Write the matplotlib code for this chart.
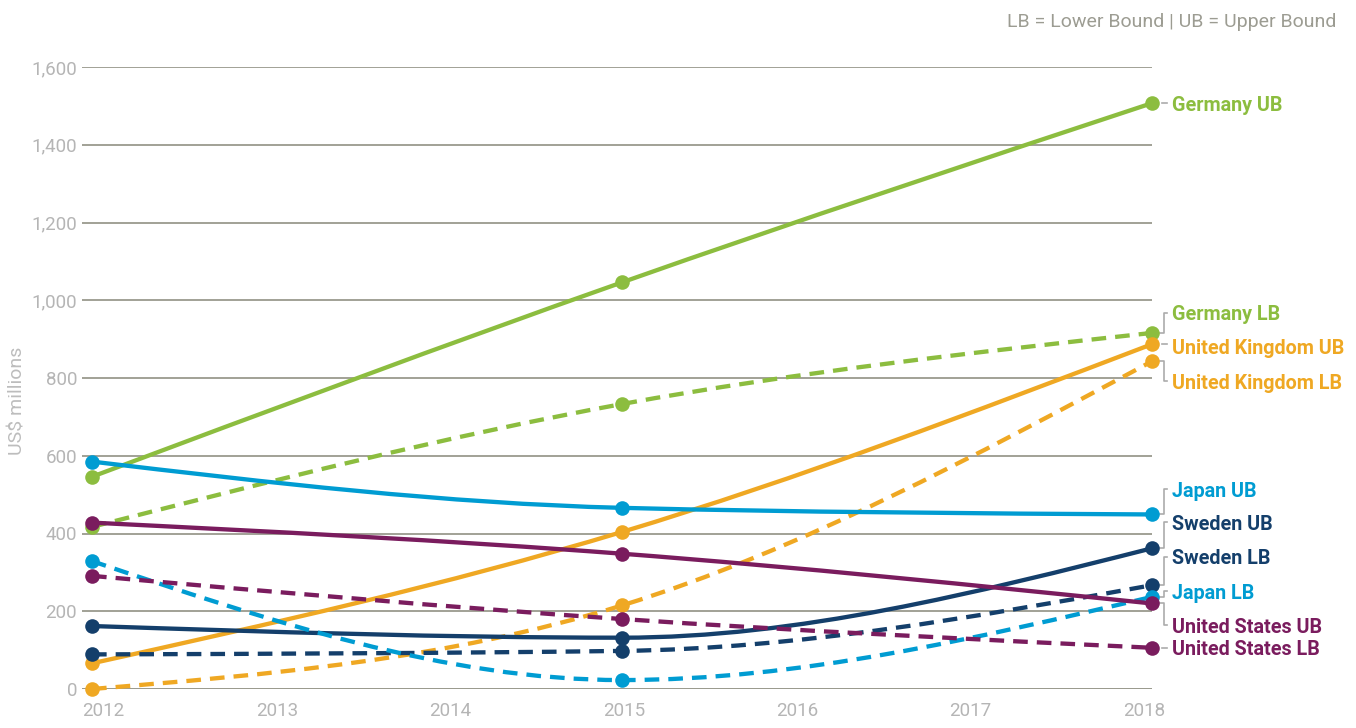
import numpy as np
import matplotlib
matplotlib.use("Agg")
import matplotlib.pyplot as plt
from matplotlib.path import Path
from matplotlib.patches import PathPatch
from matplotlib import font_manager

# ---------------- data ----------------
years = [2012, 2015, 2018]
tick_years = [2012, 2013, 2014, 2015, 2016, 2017, 2018]

germany_ub = [546, 1046, 1507]
germany_lb = [417, 733, 916]
uk_ub = [66, 404, 887]
uk_lb = [0, 215, 843]
japan_ub = [585, 466, 449]
japan_lb = [329, 23, 237]
sweden_ub = [162, 132, 362]
sweden_lb = [89, 98, 267]
us_ub = [428, 348, 220]
us_lb = [291, 180, 106]

series_names = ["Germany UB", "Germany LB", "United Kingdom UB", "United Kingdom LB",
                "Japan UB", "Sweden UB", "Sweden LB", "Japan LB",
                "United States UB", "United States LB"]
y_ticks = [0, 200, 400, 600, 800, 1000, 1200, 1400, 1600]
y_tick_labels = ["0", "200", "400", "600", "800", "1,000", "1,200", "1,400", "1,600"]

# ---------------- style ----------------
GREEN = "#8CBD3F"
ORANGE = "#EFA823"
BLUE = "#009CD2"
NAVY = "#143F6B"
PURPLE = "#7A1C5E"
GRID = "#9a9a8e"
TICK = "#b5b5b5"
NOTE = "#9c9c92"
CONN = "#ababab"

names = {f.name for f in font_manager.fontManager.ttflist}
if "Liberation Sans Narrow" in names:
    FONT = ["Liberation Sans Narrow", "DejaVu Sans"]
else:
    FONT = ["Roboto", "DejaVu Sans"]
plt.rcParams["font.family"] = FONT

series = [
    (germany_ub, GREEN, "solid"),
    (germany_lb, GREEN, "dashed"),
    (uk_ub, ORANGE, "solid"),
    (uk_lb, ORANGE, "dashed"),
    (japan_ub, BLUE, "solid"),
    (sweden_ub, NAVY, "solid"),
    (sweden_lb, NAVY, "dashed"),
    (japan_lb, BLUE, "dashed"),
    (us_ub, PURPLE, "solid"),
    (us_lb, PURPLE, "dashed"),
]
# label vertical positions (layout, in axis units) for right-hand labels
label_pos = [1507, 968, 881, 791, 514, 429, 340, 251, 164, 106]


def monotone_path(xs, ys):
    """Monotone cubic (like d3 curveMonotoneX) path through given points."""
    xs = np.asarray(xs, float)
    ys = np.asarray(ys, float)
    n = len(xs)
    h = np.diff(xs)
    s = np.diff(ys) / h
    t = np.zeros(n)
    for i in range(1, n - 1):
        p = (s[i - 1] * h[i] + s[i] * h[i - 1]) / (h[i - 1] + h[i])
        t[i] = (np.sign(s[i - 1]) + np.sign(s[i])) * min(abs(s[i - 1]), abs(s[i]), 0.5 * abs(p))
    t[0] = (3 * s[0] - t[1]) / 2
    t[-1] = (3 * s[-1] - t[-2]) / 2
    verts = [(xs[0], ys[0])]
    codes = [Path.MOVETO]
    for i in range(n - 1):
        dx = (xs[i + 1] - xs[i]) / 3
        verts += [(xs[i] + dx, ys[i] + dx * t[i]),
                  (xs[i + 1] - dx, ys[i + 1] - dx * t[i + 1]),
                  (xs[i + 1], ys[i + 1])]
        codes += [Path.CURVE4] * 3
    return Path(verts, codes)


fig = plt.figure(figsize=(13.56, 7.28), dpi=100)
W, H = 1356, 728
px_left, px_right, px_bottom, px_top = 82, 1152, 689, 67
ax = fig.add_axes([px_left / W, 1 - px_bottom / H, (px_right - px_left) / W, (px_bottom - px_top) / H])
ppy = (px_right - 92) / 6.0  # pixels per year
ax.set_xlim(2012 - 10 / ppy, 2018)
ax.set_ylim(0, 1600)
for sp in ax.spines.values():
    sp.set_visible(False)

# gridlines
for v in y_ticks[1:]:
    ax.axhline(v, color=GRID, lw=1.3, zorder=1)
ax.axhline(0, color="#8f8f82", lw=2.0, zorder=1)

ax.set_yticks(y_ticks, y_tick_labels)
ax.tick_params(axis="y", length=0, pad=3.5, labelsize=13.5, labelcolor=TICK)

# x tick labels (slightly inset spacing as in the reference)
xpos = [2012 + (103.5 + i * 173.4 - 92) / ppy for i in range(len(tick_years))]
ax.set_xticks(xpos, [str(y) for y in tick_years])
ax.tick_params(axis="x", length=0, pad=9, labelsize=13.5, labelcolor=TICK)

fig.text(18 / W, 1 - 401 / H, "US$ millions", rotation=90, ha="center", va="center",
         fontsize=14, color="#bdbdbd")

for vals, col, ls in series:
    path = monotone_path(years, vals)
    if ls == "dashed":
        patch = PathPatch(path, fill=False, edgecolor=col, lw=3.1, linestyle=(0, (3.4, 2.1)),
                          capstyle="butt", zorder=3, clip_on=False)
    else:
        patch = PathPatch(path, fill=False, edgecolor=col, lw=3.1, capstyle="round",
                          joinstyle="round", zorder=3, clip_on=False)
    ax.add_patch(patch)
    ax.plot(years, vals, "o", color=col, ms=10.5, mec="none", zorder=4, clip_on=False)

# right-hand labels with connectors
x_end = 2018
xa = x_end + 8 / ppy
xb = x_end + 11.5 / ppy
xc = x_end + 15 / ppy
xl = x_end + 20 / ppy
for (vals, col, ls), name, ly in zip(series, series_names, label_pos):
    dy = vals[-1]
    if abs(ly - dy) < 8:
        ax.plot([xa + 1.5 / ppy, xc], [dy, dy], color=CONN, lw=1.2, clip_on=False, zorder=2)
    else:
        ax.plot([xa, xb, xb, xc], [dy, dy, ly, ly], color=CONN, lw=1.2, clip_on=False, zorder=2)
    ax.text(xl, ly, name, color=col, fontsize=14.2, fontweight="bold",
            ha="left", va="center_baseline", clip_on=False)

fig.text(1336 / W, 1 - 22 / H, "LB = Lower Bound | UB = Upper Bound", ha="right", va="center",
         fontsize=14, color=NOTE)

fig.savefig("out.png", dpi=100)
